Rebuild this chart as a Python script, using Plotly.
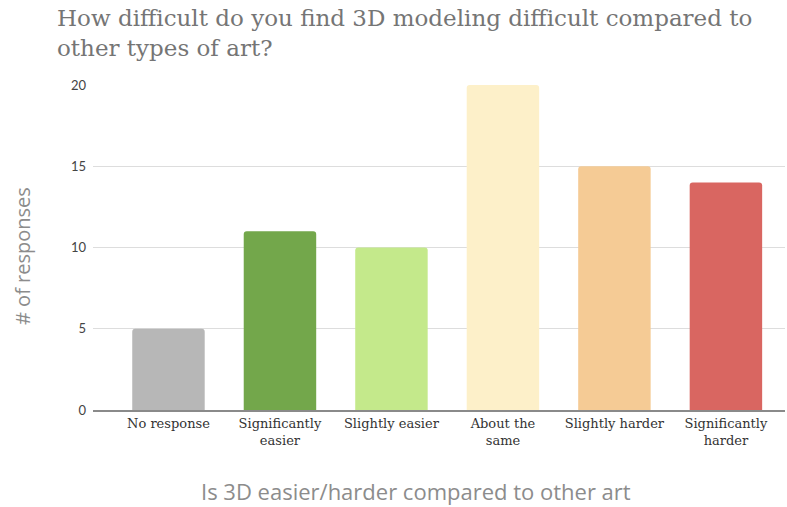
import plotly.graph_objects as go

categories = ["No response", "Significantly<br>easier", "Slightly easier",
              "About the<br>same", "Slightly harder", "Significantly<br>harder"]
responses = [5, 11, 10, 20, 15, 14]
bar_colors = ["#b7b7b7", "#73a74b", "#c4e98b", "#fdf0c9", "#f5cb95", "#d96661"]
y_ticks = [0, 5, 10, 15, 20]

W, H = 787, 507
L, R, T, B = 93, 2, 85, 97

fig = go.Figure(
    go.Bar(
        x=list(range(len(categories))),
        y=responses,
        width=0.65,
        marker=dict(color=bar_colors, line=dict(width=0), cornerradius=3),
        hoverinfo="skip",
    )
)

fig.update_layout(
    width=W, height=H,
    margin=dict(l=L, r=R, t=T, b=B),
    paper_bgcolor="white", plot_bgcolor="white",
    showlegend=False,
    title=dict(
        text="How difficult do you find 3D modeling difficult compared to<br>other types of art?",
        x=57 / W, xanchor="left", xref="container",
        y=1 - 26 / H, yanchor="top", yref="container",
        font=dict(family="DejaVu Serif", size=23, color="#757575"),
    ),
    xaxis=dict(
        range=[-0.677, 5.53],
        tickmode="array",
        tickvals=list(range(len(categories))),
        ticktext=categories,
        tickfont=dict(family="DejaVu Serif", size=13, color="#333333"),
        showgrid=False, zeroline=False,
        showline=True, linecolor="#8a8a8a", linewidth=2,
        ticks="", ticklen=0,
    ),
    yaxis=dict(
        range=[0, 20],
        tickmode="array", tickvals=y_ticks,
        tickfont=dict(family="Lato", size=13, color="#444444"),
        showgrid=True, gridcolor="#dddddd", gridwidth=1,
        zeroline=False, showline=False, ticks="",
        ticklabelstandoff=6,
    ),
    annotations=[
        dict(text="# of responses", xref="paper", yref="paper",
             x=-(L - 22) / (W - L - R), y=(H - B - 256) / (H - T - B),
             xanchor="center", yanchor="middle", textangle=-90, showarrow=False,
             font=dict(family="Open Sans", size=20, color="#8c8c8c")),
        dict(text="Is 3D easier/harder compared to other art", xref="paper", yref="paper",
             x=(416 - L) / (W - L - R), y=-(491 - (H - B)) / (H - T - B),
             xanchor="center", yanchor="middle", showarrow=False,
             font=dict(family="Open Sans", size=22, color="#8c8c8c")),
    ],
)

fig.update_traces(cliponaxis=False)
fig.write_html("out.html")
